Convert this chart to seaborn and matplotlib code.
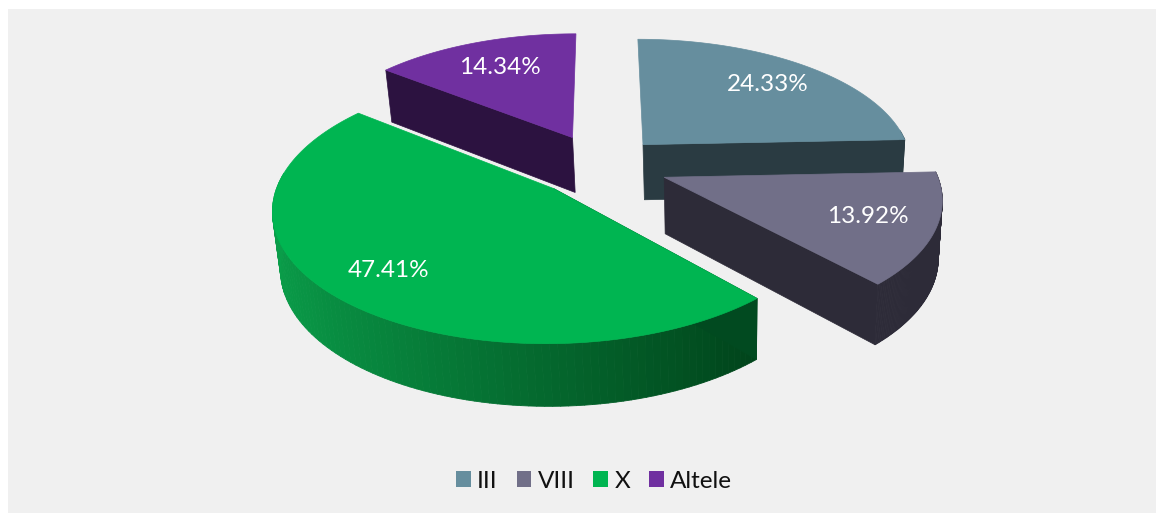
import numpy as np
import matplotlib
matplotlib.use("Agg")
import matplotlib.pyplot as plt
import seaborn as sns
from matplotlib.patches import Patch, Polygon, Rectangle
from matplotlib.collections import PolyCollection
from matplotlib.colors import to_rgb

# ---- data ----
categories = ["III", "VIII", "X", "Altele"]
shares = [24.33, 13.92, 47.41, 14.34]
share_labels = ["24.33%", "13.92%", "47.41%", "14.34%"]

# ---- styles ----
top_colors = ["#668E9E", "#716F88", "#00B551", "#7030A0"]
wall_colors = ["#2A3B42", "#2D2B38", "#014A20", "#2C1240"]
arc_light = ["#2A3B42", "#2D2B38", "#0A9E4A", "#2C1240"]
arc_dark = ["#2A3B42", "#2D2B38", "#004019", "#2C1240"]
draw_order = [3, 0, 1, 2]
explode = [0.23, 0.25, 0.25, 0.25]
label_radius = [0.75, 0.76, 0.78, 0.72]
wall_edge = [-1, -1, 0, 0]     # which radial edge of each wedge faces the viewer

W, H = 1156, 513
CX, CY = 601, 165              # pie centre, pixels
A, B, K = 270, 125.7, 0.142    # horizontal / vertical radius, perspective
DEPTH, DEPTH_K = 56, 0.09
VX, VF = 720, 0.018            # vertical lines converge slightly

sns.set_theme(style="white")
plt.rcParams["font.family"] = ["Lato", "DejaVu Sans"]

fig = plt.figure(figsize=(W / 100, H / 100), dpi=100, facecolor="white")
ax = fig.add_axes([0, 0, 1, 1])
ax.set_xlim(0, W)
ax.set_ylim(H, 0)
ax.axis("off")
ax.add_patch(Rectangle((8, 9), W - 8, H - 9, facecolor="#F0F0F0", edgecolor="none", zorder=0))


def project(x, y):
    s = 1 + K * y
    return CX + A * x / s, CY - B * y / s


def drop(sx, sy, y):
    return sx - VF * (sx - VX), sy + DEPTH / (1 + DEPTH_K * y)


fractions = np.array(shares) / np.sum(shares)
edges = np.concatenate([[0], np.cumsum(fractions)]) * 2 * np.pi

zorder = 2
for i in draw_order:
    t0, t1 = edges[i], edges[i + 1]
    mid = (t0 + t1) / 2
    th = np.linspace(t0, t1, 120)
    ex, ey = explode[i] * np.sin(mid), explode[i] * np.cos(mid)
    x, y = ex + np.sin(th), ey + np.cos(th)
    sx, sy = project(x, y)
    ax_, ay_ = project(ex, ey)
    bx, by = drop(sx, sy, y)
    abx, aby = drop(ax_, ay_, ey)

    # outer curved wall, shaded left to right
    verts, cols = [], []
    c0, c1 = np.array(to_rgb(arc_light[i])), np.array(to_rgb(arc_dark[i]))
    for j in range(len(th) - 1):
        if np.cos((th[j] + th[j + 1]) / 2) > 0.12 and i != 1:
            continue
        verts.append([(sx[j], sy[j]), (sx[j + 1], sy[j + 1]), (bx[j + 1], by[j + 1]), (bx[j], by[j])])
        u = np.clip((np.sin(th[j]) + 1) / 1.75, 0, 1)   # 0 = far left, 1 = right end
        cols.append(c0 + (c1 - c0) * u)
    if verts:
        ax.add_collection(PolyCollection(verts, facecolors=cols, edgecolors=cols, linewidths=0.6, zorder=zorder))

    # flat radial wall that faces the viewer
    k = wall_edge[i]
    ax.add_patch(Polygon([(ax_, ay_), (sx[k], sy[k]), (bx[k], by[k]), (abx, aby)],
                         closed=True, facecolor=wall_colors[i], edgecolor=wall_colors[i],
                         linewidth=0.5, zorder=zorder + 0.1))

    # top face
    ax.add_patch(Polygon(np.column_stack([np.r_[ax_, sx], np.r_[ay_, sy]]), closed=True,
                         facecolor=top_colors[i], edgecolor=top_colors[i], linewidth=0.5,
                         zorder=zorder + 0.2))

    # value label
    r = explode[i] + label_radius[i]
    lx, ly = project(r * np.sin(mid), r * np.cos(mid))
    ax.text(lx, ly, share_labels[i], color="white", fontsize=17.5, ha="center", va="center", zorder=20)
    zorder += 1

handles = [Patch(facecolor=c, edgecolor="none", label=n) for c, n in zip(top_colors, categories)]
ax.legend(handles=handles, loc="center", bbox_to_anchor=(594 / W, 1 - 481 / H), ncol=4, frameon=False,
          fontsize=17.5, labelcolor="#111111", handlelength=0.61, handleheight=0.61,
          handletextpad=0.25, columnspacing=0.78, borderpad=0, borderaxespad=0)

fig.savefig("out.png", dpi=100, facecolor=fig.get_facecolor())
